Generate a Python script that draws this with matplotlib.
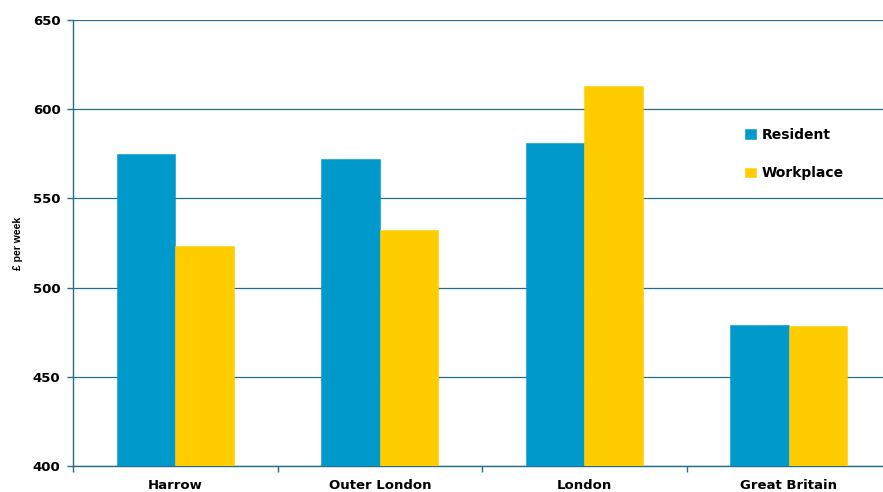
import numpy as np
import matplotlib
matplotlib.use("Agg")
import matplotlib.pyplot as plt
from matplotlib.ticker import FixedLocator, MultipleLocator

plt.rcParams["font.family"] = ["DejaVu Sans"]

# Gross weekly pay, resident vs workplace based
areas = ["Harrow", "Outer London", "London", "Great Britain"]
resident = [575.0, 572.1, 581.1, 479.0]
workplace = [523.3, 532.3, 613.0, 478.5]

BLUE = "#0099CC"
YELLOW = "#FFCC00"
AXIS = "#246F88"

fig = plt.figure(figsize=(8.83, 4.92), dpi=100)
ax = fig.add_axes([0.0827, 0.0528, 0.9264, 0.9065])

x = np.arange(len(areas))
w = 0.287
ax.bar(x - w / 2, resident, width=w, color=BLUE, edgecolor=BLUE,
       linewidth=0.4, label="Resident", zorder=3)
ax.bar(x + w / 2, workplace, width=w, color=YELLOW, edgecolor=YELLOW,
       linewidth=0.4, label="Workplace", zorder=3)

ax.set_xlim(-0.5, len(areas) - 0.5)
ax.set_ylim(400, 650)
ax.yaxis.set_major_locator(MultipleLocator(50))
ax.grid(axis="y", color=AXIS, linewidth=0.9, zorder=0)

for side in ("top", "right"):
    ax.spines[side].set_visible(False)
for side in ("left", "bottom"):
    ax.spines[side].set_color(AXIS)
    ax.spines[side].set_linewidth(1.0)

ax.set_xticks(x)
ax.set_xticklabels(areas, fontsize=9.5, fontweight="bold")
ax.xaxis.set_minor_locator(FixedLocator(np.arange(-0.5, len(areas), 1.0)))
ax.tick_params(axis="x", which="major", length=0, pad=9.5)
ax.tick_params(axis="x", which="minor", length=4, color=AXIS, width=1.0)
ax.tick_params(axis="y", length=4, color=AXIS, width=1.0, pad=5,
               labelsize=9.5)
for lbl in ax.get_xticklabels() + ax.get_yticklabels():
    lbl.set_fontweight("bold")

ax.set_ylabel("£ per week", fontsize=7.5, fontweight="bold", labelpad=7,
              family="Liberation Sans")

ax.legend(loc="upper left", bbox_to_anchor=(0.815, 0.770), frameon=False,
          prop={"size": 10, "weight": "bold"}, handlelength=0.8,
          handleheight=0.7, handletextpad=0.4, labelspacing=1.75,
          borderaxespad=0)

fig.savefig("out.png", dpi=100, facecolor="white")
